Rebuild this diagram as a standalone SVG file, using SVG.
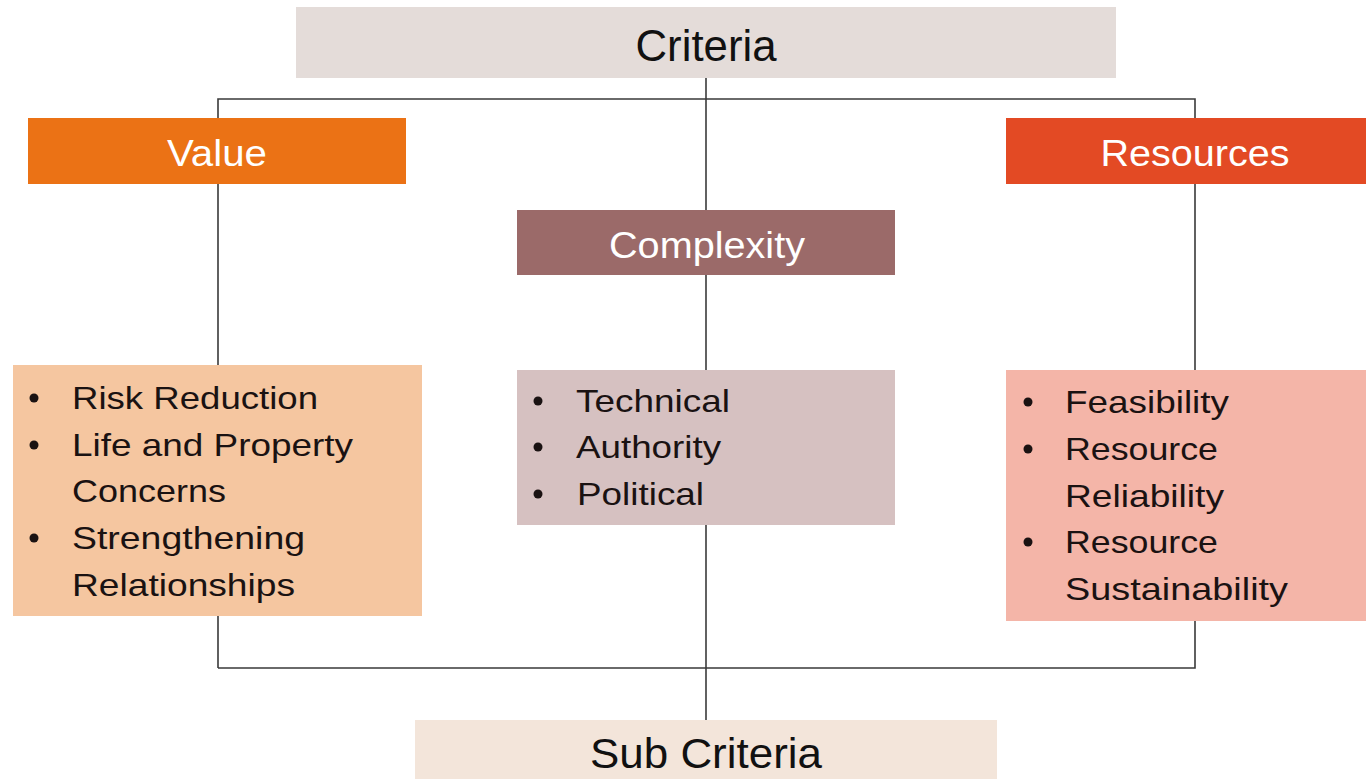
<svg xmlns="http://www.w3.org/2000/svg" width="1366" height="779" viewBox="0 0 1366 779">
<style>
.ln{stroke:#3a3a3a;stroke-width:1.6;fill:none}
.hd{font-family:"Liberation Sans",Arial,sans-serif;font-size:36px;fill:#ffffff;text-anchor:middle}
.tt{font-family:"Liberation Sans",Arial,sans-serif;font-size:44px;fill:#111111;text-anchor:middle}
.it{font-family:"Liberation Sans",Arial,sans-serif;font-size:32px;fill:#1a1212}
.bl{fill:#1a1212}
</style>
<rect width="1366" height="779" fill="#ffffff"/>
<g id="connectors">
<polyline class="ln" points="218,668 218,99 1195,99 1195,668 218,668"/>
<line class="ln" x1="706" y1="78" x2="706" y2="720"/>
</g>
<g id="criteria">
<rect x="296" y="7" width="820" height="71" fill="#e4dcd9"/>
<text class="tt" x="706" y="61" textLength="141" lengthAdjust="spacingAndGlyphs">Criteria</text>
</g>
<g id="value">
<rect x="28" y="118" width="378" height="66" fill="#eb7215"/>
<text class="hd" x="217" y="166" textLength="100" lengthAdjust="spacingAndGlyphs">Value</text>
</g>
<g id="resources">
<rect x="1006" y="118" width="360" height="66" fill="#e34a24"/>
<text class="hd" x="1195" y="166" textLength="189" lengthAdjust="spacingAndGlyphs">Resources</text>
</g>
<g id="complexity">
<rect x="517" y="210" width="378" height="65" fill="#9b6a69"/>
<text class="hd" x="707" y="258" textLength="196" lengthAdjust="spacingAndGlyphs">Complexity</text>
</g>
<g id="value-sub">
<rect x="13" y="365" width="409" height="251" fill="#f5c6a0"/>
<circle class="bl" cx="34" cy="398" r="4.5"/>
<circle class="bl" cx="34" cy="445" r="4.5"/>
<circle class="bl" cx="34" cy="538" r="4.5"/>
<text class="it" x="72" y="409" textLength="246" lengthAdjust="spacingAndGlyphs">Risk Reduction</text>
<text class="it" x="72" y="456" textLength="281" lengthAdjust="spacingAndGlyphs">Life and Property</text>
<text class="it" x="72" y="502" textLength="154" lengthAdjust="spacingAndGlyphs">Concerns</text>
<text class="it" x="72" y="549" textLength="233" lengthAdjust="spacingAndGlyphs">Strengthening</text>
<text class="it" x="72" y="596" textLength="223" lengthAdjust="spacingAndGlyphs">Relationships</text>
</g>
<g id="complexity-sub">
<rect x="517" y="370" width="378" height="155" fill="#d6c1c1"/>
<circle class="bl" cx="538" cy="401" r="4.5"/>
<circle class="bl" cx="538" cy="447" r="4.5"/>
<circle class="bl" cx="538" cy="494" r="4.5"/>
<text class="it" x="576" y="412" textLength="154" lengthAdjust="spacingAndGlyphs">Technical</text>
<text class="it" x="576" y="458" textLength="145" lengthAdjust="spacingAndGlyphs">Authority</text>
<text class="it" x="577" y="505" textLength="127" lengthAdjust="spacingAndGlyphs">Political</text>
</g>
<g id="resources-sub">
<rect x="1006" y="370" width="360" height="251" fill="#f4b5a8"/>
<circle class="bl" cx="1028" cy="402" r="4.5"/>
<circle class="bl" cx="1028" cy="449" r="4.5"/>
<circle class="bl" cx="1028" cy="542" r="4.5"/>
<text class="it" x="1065" y="413" textLength="164" lengthAdjust="spacingAndGlyphs">Feasibility</text>
<text class="it" x="1065" y="460" textLength="153" lengthAdjust="spacingAndGlyphs">Resource</text>
<text class="it" x="1065" y="507" textLength="159" lengthAdjust="spacingAndGlyphs">Reliability</text>
<text class="it" x="1065" y="553" textLength="153" lengthAdjust="spacingAndGlyphs">Resource</text>
<text class="it" x="1065" y="600" textLength="223" lengthAdjust="spacingAndGlyphs">Sustainability</text>
</g>
<g id="sub-criteria">
<rect x="415" y="720" width="582" height="59" fill="#f3e5da"/>
<text class="tt" x="706" y="768" style="font-size:42px" textLength="232" lengthAdjust="spacingAndGlyphs">Sub Criteria</text>
</g>
</svg>
